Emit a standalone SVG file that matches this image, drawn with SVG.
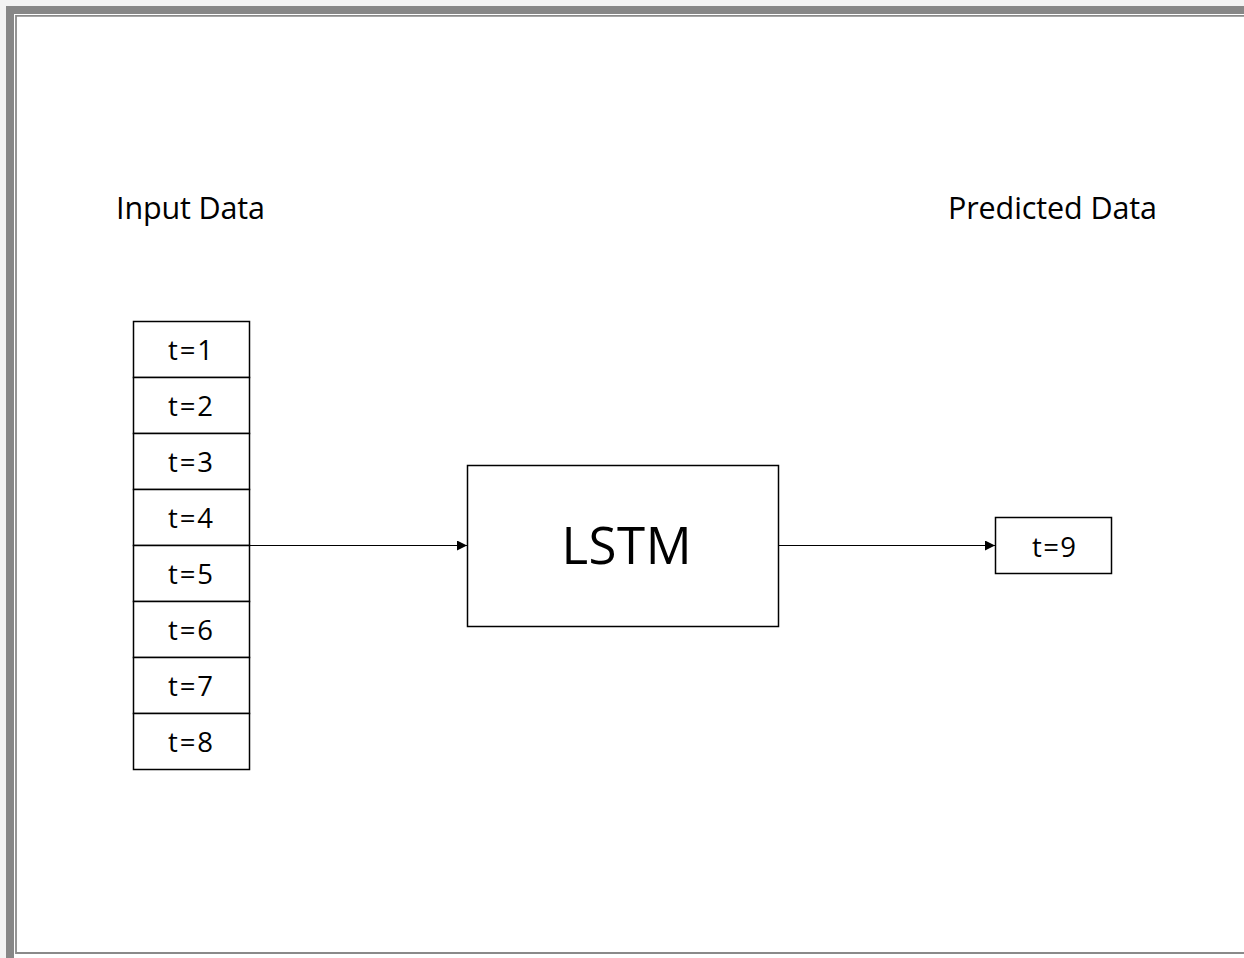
<svg xmlns="http://www.w3.org/2000/svg" width="1244" height="958" viewBox="0 0 1244 958">
  <style>
    .lbl { font-family: "Open Sans", "Liberation Sans", sans-serif; fill: #000; }
    .box { fill: #fff; stroke: #000; stroke-width: 1.5; }
    .link { stroke: #000; stroke-width: 1.2; fill: none; }
  </style>
  <defs>
    <marker id="arrow" viewBox="0 0 10 10" refX="10" refY="5" markerWidth="10" markerHeight="10" markerUnits="userSpaceOnUse" orient="auto">
      <path d="M0,0 L10,5 L0,10 z" fill="#000"/>
    </marker>
  </defs>

  <!-- page background and frame -->
  <rect x="0" y="0" width="1244" height="958" fill="#f3f3f3"/>
  <rect x="6" y="6" width="1250" height="960" fill="#878787"/>
  <rect x="14" y="14" width="1240" height="944" fill="#fff"/>
  <path d="M1244,15.8 H16 V953 H1244" fill="none" stroke="#8a8a8a" stroke-width="1.8"/>

  <!-- headings -->
  <text id="input-label" class="lbl" x="190.5" y="219" font-size="30.5" text-anchor="middle" textLength="149" lengthAdjust="spacing">Input Data</text>
  <text id="output-label" class="lbl" x="1052.5" y="219" font-size="30.5" text-anchor="middle" textLength="209" lengthAdjust="spacing">Predicted Data</text>

  <!-- input sequence -->
  <g id="input-sequence">
    <rect class="box" x="133.5" y="321.5" width="116" height="56"/>
    <rect class="box" x="133.5" y="377.5" width="116" height="56"/>
    <rect class="box" x="133.5" y="433.5" width="116" height="56"/>
    <rect class="box" x="133.5" y="489.5" width="116" height="56"/>
    <rect class="box" x="133.5" y="545.5" width="116" height="56"/>
    <rect class="box" x="133.5" y="601.5" width="116" height="56"/>
    <rect class="box" x="133.5" y="657.5" width="116" height="56"/>
    <rect class="box" x="133.5" y="713.5" width="116" height="56"/>
    <g class="lbl" font-size="27.5" text-anchor="middle">
      <text x="190.5" y="360" textLength="45" lengthAdjust="spacing">t=1</text>
      <text x="190.5" y="416" textLength="45" lengthAdjust="spacing">t=2</text>
      <text x="190.5" y="472" textLength="45" lengthAdjust="spacing">t=3</text>
      <text x="190.5" y="528" textLength="45" lengthAdjust="spacing">t=4</text>
      <text x="190.5" y="584" textLength="45" lengthAdjust="spacing">t=5</text>
      <text x="190.5" y="640" textLength="45" lengthAdjust="spacing">t=6</text>
      <text x="190.5" y="696" textLength="45" lengthAdjust="spacing">t=7</text>
      <text x="190.5" y="752" textLength="45" lengthAdjust="spacing">t=8</text>
    </g>
  </g>

  <!-- model -->
  <g id="lstm">
    <rect class="box" x="467.5" y="465.5" width="311" height="161"/>
    <text class="lbl" x="626.5" y="563.5" font-size="51" text-anchor="middle" textLength="130" lengthAdjust="spacing">LSTM</text>
  </g>

  <!-- prediction -->
  <g id="output">
    <rect class="box" x="995.5" y="517.5" width="116" height="56"/>
    <text class="lbl" x="1054" y="557" font-size="27.5" text-anchor="middle" textLength="44" lengthAdjust="spacing">t=9</text>
  </g>

  <!-- connectors -->
  <g id="connectors">
    <line class="link" x1="249.5" y1="545.5" x2="467" y2="545.5" marker-end="url(#arrow)"/>
    <line class="link" x1="778.5" y1="545.5" x2="995" y2="545.5" marker-end="url(#arrow)"/>
  </g>
</svg>
